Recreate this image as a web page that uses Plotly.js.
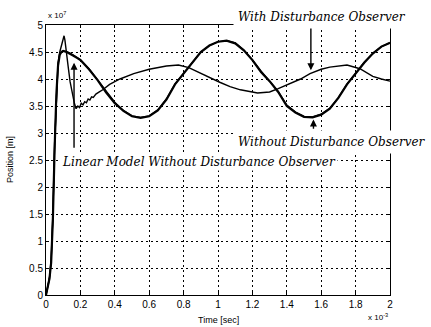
<!DOCTYPE html>
<html>
<head>
<meta charset="utf-8">
<script src="https://cdn.plot.ly/plotly-3.0.1.min.js"></script>
<style>html,body{margin:0;padding:0;background:#fff;}#chart{width:431px;height:327px;}</style>
</head>
<body>
<div id="chart"></div>
<script>
// Time axis values (x 10^-3 sec) and positions (x 10^7)
const tWithout = [0, 0.01, 0.02, 0.03, 0.04, 0.05, 0.06, 0.07, 0.08, 0.09, 0.1, 0.12, 0.14, 0.16, 0.18, 0.2, 0.25, 0.3, 0.35, 0.4, 0.45, 0.5, 0.55, 0.6, 0.65, 0.7, 0.75, 0.8, 0.85, 0.9, 0.95, 1.0, 1.05, 1.1, 1.15, 1.2, 1.25, 1.3, 1.35, 1.4, 1.45, 1.5, 1.55, 1.6, 1.65, 1.7, 1.75, 1.8, 1.85, 1.9, 1.95, 2.0];
const posWithout = [0, 0.15, 0.3, 0.6, 1.4, 2.7, 3.7, 4.25, 4.45, 4.5, 4.52, 4.5, 4.47, 4.43, 4.39, 4.35, 4.18, 3.98, 3.75, 3.55, 3.41, 3.31, 3.28, 3.31, 3.42, 3.62, 3.9, 4.1, 4.3, 4.5, 4.62, 4.69, 4.71, 4.66, 4.53, 4.35, 4.13, 3.96, 3.76, 3.5, 3.38, 3.3, 3.29, 3.34, 3.45, 3.65, 3.9, 4.1, 4.3, 4.47, 4.6, 4.67];
const posLinear = [0, 0.16, 0.32, 0.62, 1.45, 2.75, 3.72, 4.27, 4.46, 4.51, 4.52, 4.51, 4.48, 4.44, 4.4, 4.36, 4.19, 3.99, 3.77, 3.57, 3.42, 3.32, 3.29, 3.32, 3.43, 3.63, 3.91, 4.11, 4.31, 4.5, 4.62, 4.69, 4.71, 4.67, 4.54, 4.36, 4.15, 3.97, 3.77, 3.52, 3.39, 3.31, 3.3, 3.35, 3.46, 3.66, 3.91, 4.11, 4.31, 4.48, 4.6, 4.67];
const tWith = [0, 0.01, 0.02, 0.03, 0.04, 0.05, 0.06, 0.07, 0.08, 0.09, 0.1, 0.105, 0.11, 0.12, 0.13, 0.14, 0.155, 0.165, 0.175, 0.185, 0.195, 0.205, 0.215, 0.225, 0.235, 0.245, 0.255, 0.265, 0.275, 0.29, 0.31, 0.33, 0.37, 0.43, 0.51, 0.6, 0.7, 0.77, 0.83, 0.9, 0.95, 1.01, 1.07, 1.13, 1.23, 1.3, 1.35, 1.4, 1.48, 1.535, 1.6, 1.65, 1.75, 1.825, 1.9, 1.95, 2.0];
const posWith = [0, 0.15, 0.3, 0.65, 1.5, 2.8, 3.75, 4.3, 4.5, 4.63, 4.75, 4.8, 4.72, 4.5, 4.2, 3.95, 3.7, 3.55, 3.45, 3.5, 3.47, 3.55, 3.52, 3.58, 3.56, 3.63, 3.61, 3.67, 3.66, 3.72, 3.76, 3.8, 3.9, 4.0, 4.1, 4.18, 4.24, 4.26, 4.21, 4.1, 4.02, 3.94, 3.86, 3.8, 3.74, 3.76, 3.82, 3.89, 4.0, 4.1, 4.18, 4.22, 4.26, 4.19, 4.05, 4.0, 3.96];

const xTicks = [0, 0.2, 0.4, 0.6, 0.8, 1, 1.2, 1.4, 1.6, 1.8, 2];
const xTickText = ['0', '0.2', '0.4', '0.6', '0.8', '1', '1.2', '1.4', '1.6', '1.8', '2'];
const yTicks = [0, 0.5, 1, 1.5, 2, 2.5, 3, 3.5, 4, 4.5, 5];
const yTickText = ['0', '0.5', '1', '1.5', '2', '2.5', '3', '3.5', '4', '4.5', '5'];

const labelWith = 'With Disturbance Observer';
const labelWithout = 'Without Disturbance Observer';
const labelLinear = 'Linear Model Without Disturbance Observer';

const traces = [
  {x: tWithout, y: posWithout, mode: 'lines', line: {color: '#000', width: 2.2}, name: labelWithout},
  {x: tWithout, y: posLinear, mode: 'lines', line: {color: '#000', width: 1.2}, name: labelLinear},
  {x: tWith, y: posWith, mode: 'lines', line: {color: '#000', width: 1.4}, name: labelWith}
];

const annFont = {family: 'DejaVu Serif', size: 12, color: '#000', style: 'italic'};
const smallFont = {family: 'Liberation Sans, Arial', size: 9, color: '#000'};

const layout = {
  width: 431, height: 327,
  margin: {l: 46, r: 41, t: 25, b: 32},
  paper_bgcolor: '#fff', plot_bgcolor: '#fff',
  showlegend: false,
  xaxis: {
    range: [0, 2], tickvals: xTicks, ticktext: xTickText,
    showgrid: true, gridcolor: '#000', gridwidth: 1, griddash: '2px,3px',
    zeroline: false, showline: true, linecolor: '#000', linewidth: 1, mirror: 'ticks',
    ticks: 'inside', ticklen: 3, tickcolor: '#000',
    tickfont: {family: 'Liberation Sans, Arial', size: 10, color: '#000'}
  },
  yaxis: {
    range: [0, 5], tickvals: yTicks, ticktext: yTickText,
    showgrid: true, gridcolor: '#000', gridwidth: 1, griddash: '2px,3px',
    zeroline: false, showline: true, linecolor: '#000', linewidth: 1, mirror: 'ticks',
    ticks: 'inside', ticklen: 3, tickcolor: '#000',
    tickfont: {family: 'Liberation Sans, Arial', size: 10, color: '#000'}
  },
  annotations: [
    {xref: 'paper', yref: 'paper', x: 0.5, y: 0, yanchor: 'top', yshift: -18, text: 'Time [sec]', showarrow: false, font: smallFont},
    {xref: 'paper', yref: 'paper', x: 0, y: 0.5, xanchor: 'center', yanchor: 'middle', xshift: -36, textangle: -90, text: 'Position [m]', showarrow: false, font: smallFont},
    {xref: 'paper', yref: 'paper', x: 0, y: 1, xanchor: 'left', yanchor: 'bottom', xshift: 0, yshift: 3, text: 'x 10<sup>7</sup>', showarrow: false, font: {family: 'Liberation Sans, Arial', size: 8, color: '#000'}},
    {xref: 'paper', yref: 'paper', x: 1, y: 0, xanchor: 'right', yanchor: 'top', yshift: -15, text: 'x 10<sup>-3</sup>', showarrow: false, font: {family: 'Liberation Sans, Arial', size: 8, color: '#000'}},
    // arrows
    {x: 1.54, y: 4.16, ax: 1.54, ay: 4.98, axref: 'x', ayref: 'y', text: '', showarrow: true, arrowhead: 2, arrowsize: 1, arrowwidth: 1.4, arrowcolor: '#000', standoff: 0},
    {x: 1.555, y: 3.25, ax: 1.555, ay: 3.05, axref: 'x', ayref: 'y', text: '', showarrow: true, arrowhead: 2, arrowsize: 1, arrowwidth: 1.4, arrowcolor: '#000', standoff: 0},
    {x: 0.163, y: 4.3, ax: 0.163, ay: 2.7, axref: 'x', ayref: 'y', text: '', showarrow: true, arrowhead: 2, arrowsize: 1, arrowwidth: 1.4, arrowcolor: '#000', standoff: 0},
    // labels
    {xref: 'paper', yref: 'paper', x: 0.802, y: 1.03, text: labelWith, showarrow: false, font: annFont, bgcolor: '#fff', borderpad: 4, xanchor: 'center', yanchor: 'middle'},
    {x: 1.66, y: 2.83, text: labelWithout, showarrow: false, font: annFont, bgcolor: '#fff', borderpad: 4, xanchor: 'center', yanchor: 'middle'},
    {x: 0.89, y: 2.47, text: labelLinear, showarrow: false, font: annFont, bgcolor: '#fff', borderpad: 1, xanchor: 'center', yanchor: 'middle'}
  ]
};

Plotly.newPlot('chart', traces, layout, {displayModeBar: false, staticPlot: true});
</script>
</body>
</html>
